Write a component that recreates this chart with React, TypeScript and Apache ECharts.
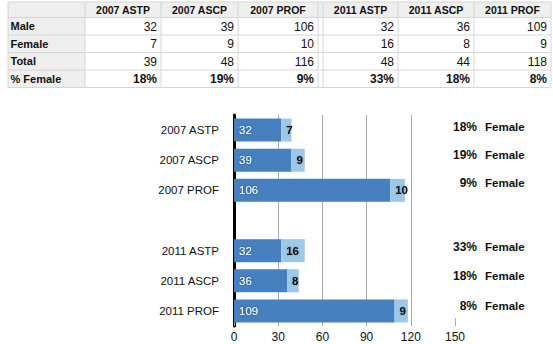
import React, { useEffect, useRef } from "react";
import * as echarts from "echarts";

// ---- data ----
const tableHeaders = ["2007 ASTP", "2007 ASCP", "2007 PROF", "2011 ASTP", "2011 ASCP", "2011 PROF"];
const tableRowLabels = ["Male", "Female", "Total", "% Female"];
const maleCounts = [32, 39, 106, 32, 36, 109];
const femaleCounts = [7, 9, 10, 16, 8, 9];
const totalCounts = [39, 48, 116, 48, 44, 118];
const pctFemale = ["18%", "19%", "9%", "33%", "18%", "8%"];

const chartCategories = ["2007 ASTP", "2007 ASCP", "2007 PROF", "", "2011 ASTP", "2011 ASCP", "2011 PROF"];
const chartMale: (number | string)[] = [32, 39, 106, "-", 32, 36, 109];
const chartFemale: (number | string)[] = [7, 9, 10, "-", 16, 8, 9];
const xTicks = [0, 30, 60, 90, 120, 150];

const FONT = "'Liberation Sans', Arial, Helvetica, sans-serif";
const DARK = "#4680bf";
const LIGHT = "#9dc8e8";

function buildTable(): any[] {
  const els: any[] = [];
  const colEdges = [8, 85, 161, 238, 318, 323, 398, 474, 551];
  const dataCols = [1, 2, 3, 5, 6, 7]; // index into colEdges (left edge = colEdges[i], right = colEdges[i+1])
  const rowEdges = [2, 17.5, 35, 52.5, 70, 87.5];
  const left = colEdges[0];
  const right = colEdges[colEdges.length - 1];
  const gray = "#efefef";
  const border = "#d6d6d6";
  // header background
  els.push({ type: "rect", shape: { x: left, y: rowEdges[0], width: right - left, height: rowEdges[1] - rowEdges[0] }, style: { fill: gray }, silent: true });
  // label column background
  els.push({ type: "rect", shape: { x: left, y: rowEdges[1], width: colEdges[1] - left, height: rowEdges[5] - rowEdges[1] }, style: { fill: gray }, silent: true });
  // horizontal lines
  rowEdges.forEach((y) => {
    els.push({ type: "line", shape: { x1: left, y1: y, x2: right, y2: y }, style: { stroke: border, lineWidth: 1 }, silent: true });
  });
  // vertical lines
  colEdges.forEach((x) => {
    els.push({ type: "line", shape: { x1: x, y1: rowEdges[0], x2: x, y2: rowEdges[5] }, style: { stroke: border, lineWidth: 1 }, silent: true });
  });
  // header texts
  tableHeaders.forEach((h, i) => {
    const ci = dataCols[i];
    const cx = (colEdges[ci] + colEdges[ci + 1]) / 2;
    els.push({ type: "text", x: cx, y: (rowEdges[0] + rowEdges[1]) / 2, style: { text: h, font: `bold 10.5px ${FONT}`, fill: "#111", align: "center", verticalAlign: "middle" }, silent: true });
  });
  // row labels
  tableRowLabels.forEach((lab, r) => {
    els.push({ type: "text", x: left + 2.5, y: (rowEdges[r + 1] + rowEdges[r + 2]) / 2, style: { text: lab, font: `bold 11px ${FONT}`, fill: "#111", align: "left", verticalAlign: "middle" }, silent: true });
  });
  const rows: (string | number)[][] = [maleCounts, femaleCounts, totalCounts, pctFemale];
  rows.forEach((vals, r) => {
    vals.forEach((v, i) => {
      const ci = dataCols[i];
      const rx = colEdges[ci + 1] - 4;
      els.push({
        type: "text",
        x: rx,
        y: (rowEdges[r + 1] + rowEdges[r + 2]) / 2 + 0.5,
        style: { text: String(v), font: `${r === 3 ? "bold " : ""}12px ${FONT}`, fill: "#111", align: "right", verticalAlign: "middle" },
        silent: true,
      });
    });
  });
  return els;
}

function buildAnnotations(): any[] {
  const ys = [127, 155, 183, 247, 276, 306];
  const els: any[] = [];
  pctFemale.forEach((p, i) => {
    els.push({ type: "text", x: 477, y: ys[i], style: { text: p, font: `bold 12px ${FONT}`, fill: "#111", align: "right", verticalAlign: "middle" }, silent: true });
    els.push({ type: "text", x: 485, y: ys[i], style: { text: "Female", font: `bold 11.5px ${FONT}`, fill: "#111", align: "left", verticalAlign: "middle" }, silent: true });
  });
  return els;
}

export default function App() {
  const ref = useRef<HTMLDivElement>(null);
  useEffect(() => {
    if (!ref.current) return;
    const chart = echarts.init(ref.current, undefined, { renderer: "svg" });
    chart.setOption({
      animation: false,
      backgroundColor: "#ffffff",
      textStyle: { fontFamily: FONT },
      grid: { left: 234, top: 115, width: 221, height: 211, containLabel: false },
      xAxis: {
        type: "value",
        min: 0,
        max: 150,
        interval: 30,
        axisLine: { show: false },
        axisTick: { show: true, inside: true, length: 8, lineStyle: { color: "#aaaaaa", width: 1 } },
        axisLabel: { color: "#111", fontSize: 12, margin: 5, fontFamily: FONT, formatter: (v: number) => (xTicks.includes(v) ? String(v) : "") },
        splitLine: { show: true, lineStyle: { color: ["transparent", "#aaaaaa", "#aaaaaa", "#aaaaaa", "#aaaaaa", "transparent"], width: 1 } },
      },
      yAxis: {
        type: "category",
        inverse: true,
        data: chartCategories,
        axisLine: { show: true, lineStyle: { color: "#000", width: 3 } },
        axisTick: { show: false },
        axisLabel: { color: "#111", fontSize: 11.5, margin: 15, fontFamily: FONT },
        splitLine: { show: false },
      },
      series: [
        {
          name: "Male",
          type: "bar",
          stack: "total",
          barWidth: 23,
          data: chartMale,
          itemStyle: { color: DARK },
          label: {
            show: true,
            position: "insideLeft",
            distance: 5,
            color: "#fff",
            fontSize: 11.5,
            fontFamily: FONT,
            textShadowColor: "rgba(0,0,0,0.45)",
            textShadowBlur: 2,
          },
        },
        {
          name: "Female",
          type: "bar",
          stack: "total",
          barWidth: 23,
          data: chartFemale,
          itemStyle: { color: LIGHT },
          label: {
            show: true,
            position: "insideLeft",
            distance: 5,
            color: "#111",
            fontWeight: "bold",
            fontSize: 11.5,
            fontFamily: FONT,
            textShadowColor: "rgba(0,0,0,0.25)",
            textShadowBlur: 2,
          },
        },
      ],
      graphic: [...buildTable(), ...buildAnnotations()],
    });
    return () => chart.dispose();
  }, []);
  return <div ref={ref} style={{ position: "fixed", left: 0, top: 0, width: 553, height: 344, background: "#fff" }} />;
}
